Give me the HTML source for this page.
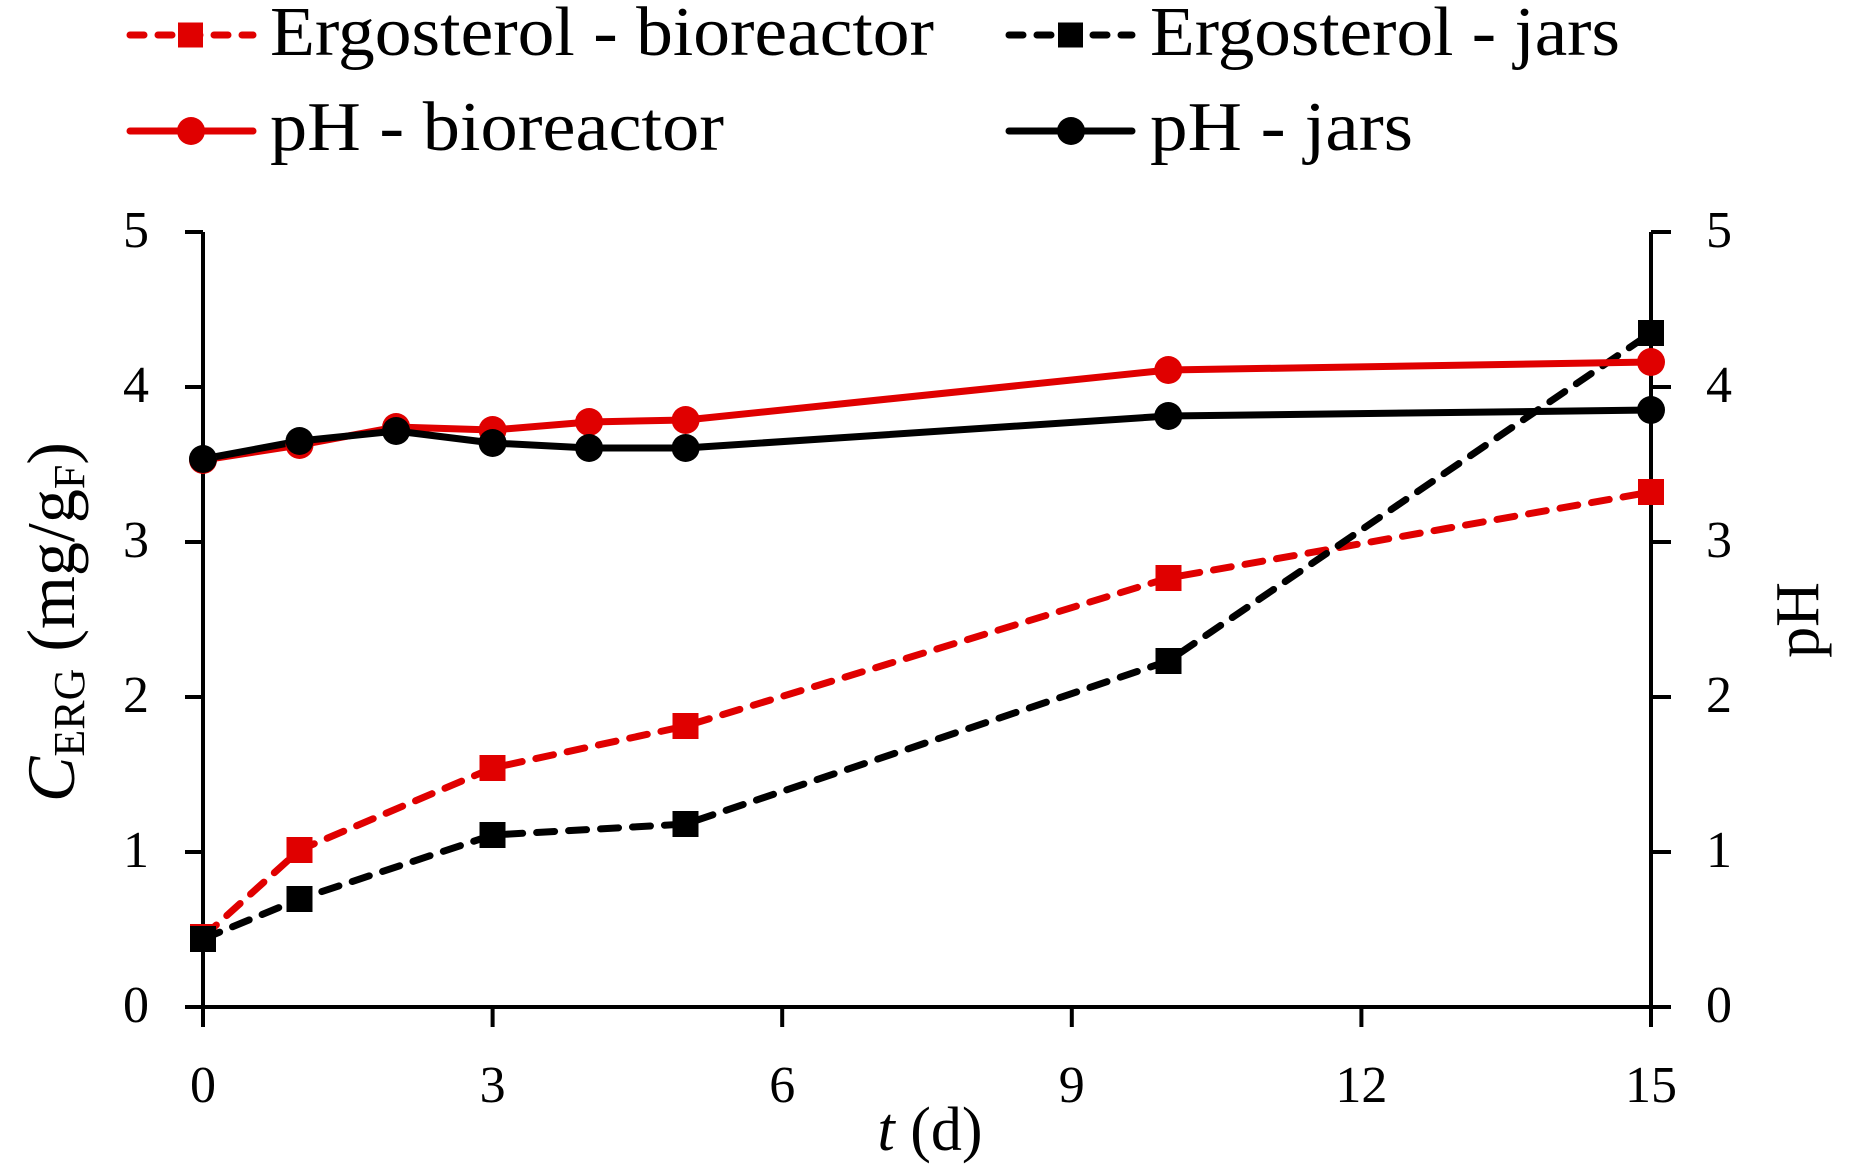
<!DOCTYPE html>
<html><head><meta charset="utf-8"><style>html,body{margin:0;padding:0;background:#fff}svg{display:block}</style></head><body>
<svg width="1852" height="1174" viewBox="0 0 1852 1174" xmlns="http://www.w3.org/2000/svg" font-family="'Liberation Serif', serif">
<rect width="1852" height="1174" fill="#fff"/>
<g stroke="#000" stroke-width="4" fill="none">
<line x1="203" y1="232" x2="203" y2="1027"/>
<line x1="1651" y1="232" x2="1651" y2="1027"/>
<line x1="185" y1="1007" x2="1671" y2="1007"/>
<line x1="185" y1="232" x2="203" y2="232"/><line x1="185" y1="387" x2="203" y2="387"/><line x1="185" y1="542" x2="203" y2="542"/><line x1="185" y1="697" x2="203" y2="697"/><line x1="185" y1="852" x2="203" y2="852"/>
<line x1="1651" y1="232" x2="1671" y2="232"/><line x1="1651" y1="387" x2="1671" y2="387"/><line x1="1651" y1="542" x2="1671" y2="542"/><line x1="1651" y1="697" x2="1671" y2="697"/><line x1="1651" y1="852" x2="1671" y2="852"/>
<line x1="492.6" y1="1007" x2="492.6" y2="1027"/><line x1="782.2" y1="1007" x2="782.2" y2="1027"/><line x1="1071.8" y1="1007" x2="1071.8" y2="1027"/><line x1="1361.4" y1="1007" x2="1361.4" y2="1027"/><line x1="1651" y1="1007" x2="1651" y2="1027"/>
</g>
<g font-size="52" fill="#000" text-anchor="end">
<text x="149" y="247">5</text><text x="149" y="402">4</text><text x="149" y="557">3</text><text x="149" y="712">2</text><text x="149" y="867">1</text><text x="149" y="1022">0</text>
</g>
<g font-size="52" fill="#000" text-anchor="start">
<text x="1706" y="247">5</text><text x="1706" y="402">4</text><text x="1706" y="557">3</text><text x="1706" y="712">2</text><text x="1706" y="867">1</text><text x="1706" y="1022">0</text>
</g>
<g font-size="52" fill="#000" text-anchor="middle">
<text x="203" y="1102">0</text><text x="492.6" y="1102">3</text><text x="782.2" y="1102">6</text><text x="1071.8" y="1102">9</text><text x="1361.4" y="1102">12</text><text x="1651" y="1102">15</text>
</g>
<text x="930" y="1150" font-size="62" text-anchor="middle"><tspan font-style="italic">t</tspan> (d)</text>
<text transform="translate(74,622) rotate(-90)" font-size="68" text-anchor="middle"><tspan font-style="italic">C</tspan><tspan font-size="44" dy="10">ERG</tspan><tspan dy="-10"> (mg/g</tspan><tspan font-size="44" dy="10">F</tspan><tspan dy="-10">)</tspan></text>
<text transform="translate(1818,620) rotate(-90)" font-size="62" text-anchor="middle">pH</text>

<g fill="none" stroke-width="7" stroke-linejoin="round">
<polyline stroke="#e00000" stroke-dasharray="18 14" stroke-linecap="round" points="203,937 299.5,850 492.6,768 685.6,726 1168.3,578 1651,492"/>
<polyline stroke="#000" stroke-dasharray="18 14" stroke-linecap="round" points="203,939 299.5,899 492.6,835 685.6,824 1168.3,661 1651,333"/>
<polyline stroke="#e00000" points="203,460 299.5,445 396.1,427 492.6,430 589.1,422 685.6,420 1168.3,370 1651,362"/>
<polyline stroke="#000" points="203,459 299.5,441 396.1,431 492.6,443 589.1,448 685.6,448 1168.3,416 1651,410"/>
</g>
<g fill="#e00000">
<rect x="190" y="924" width="26" height="26"/><rect x="286.5" y="837" width="26" height="26"/><rect x="479.5" y="755" width="26" height="26"/><rect x="672.5" y="713" width="26" height="26"/><rect x="1155.5" y="565" width="26" height="26"/><rect x="1638" y="479" width="26" height="26"/>
</g>
<g fill="#000">
<rect x="190" y="926" width="26" height="26"/><rect x="286.5" y="886" width="26" height="26"/><rect x="479.5" y="822" width="26" height="26"/><rect x="672.5" y="811" width="26" height="26"/><rect x="1155.5" y="648" width="26" height="26"/><rect x="1638" y="320" width="26" height="26"/>
</g>
<g fill="#e00000">
<circle cx="203" cy="460" r="14"/><circle cx="299.5" cy="445" r="14"/><circle cx="396.1" cy="427" r="14"/><circle cx="492.6" cy="430" r="14"/><circle cx="589.1" cy="422" r="14"/><circle cx="685.6" cy="420" r="14"/><circle cx="1168.3" cy="370" r="14"/><circle cx="1651" cy="362" r="14"/>
</g>
<g fill="#000">
<circle cx="203" cy="459" r="14"/><circle cx="299.5" cy="441" r="14"/><circle cx="396.1" cy="431" r="14"/><circle cx="492.6" cy="443" r="14"/><circle cx="589.1" cy="448" r="14"/><circle cx="685.6" cy="448" r="14"/><circle cx="1168.3" cy="416" r="14"/><circle cx="1651" cy="410" r="14"/>
</g>

<g stroke-width="7" stroke-linecap="round">
<line x1="130" y1="35" x2="253" y2="35" stroke="#e00000" stroke-dasharray="14 14"/>
<line x1="130" y1="131" x2="253" y2="131" stroke="#e00000"/>
<line x1="1009" y1="35" x2="1132" y2="35" stroke="#000" stroke-dasharray="14 14"/>
<line x1="1009" y1="131" x2="1132" y2="131" stroke="#000"/>
</g>
<rect x="178" y="22.5" width="25" height="25" fill="#e00000"/>
<circle cx="191" cy="131" r="14" fill="#e00000"/>
<rect x="1058" y="22.5" width="25" height="25" fill="#000"/>
<circle cx="1071" cy="131" r="14" fill="#000"/>
<g font-size="70" fill="#000">
<text x="270" y="55" textLength="664" lengthAdjust="spacingAndGlyphs">Ergosterol - bioreactor</text>
<text x="270" y="150" textLength="454" lengthAdjust="spacingAndGlyphs">pH - bioreactor</text>
<text x="1150" y="55" textLength="470" lengthAdjust="spacingAndGlyphs">Ergosterol - jars</text>
<text x="1150" y="150" textLength="263" lengthAdjust="spacingAndGlyphs">pH - jars</text>
</g>
</svg>
</body></html>
